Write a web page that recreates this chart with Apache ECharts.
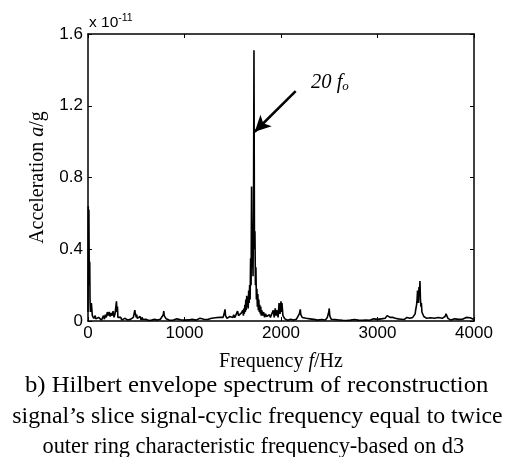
<!DOCTYPE html>
<html>
<head>
<meta charset="utf-8">
<script src="https://cdn.jsdelivr.net/npm/echarts@6/dist/echarts.min.js"></script>
<style>
html,body{margin:0;padding:0;background:#fff;}
#c{width:519px;height:457px;}
</style>
</head>
<body>
<div id="c"></div>
<script>
// Envelope spectrum (amplitude in units of 1e-11 g)
const freq = [
  0,3,6,9,12,15,18,21,25,30,35,40,45,50,55,60,65,70,75,80,85,90,95,100,
  110,120,130,140,150,160,170,180,190,200,210,220,230,240,250,260,270,280,290,295,300,305,310,320,330,
  340,350,360,370,380,390,400,410,420,430,440,450,460,470,
  480,485,490,495,500,505,510,520,
  530,540,550,560,570,580,590,600,610,620,630,640,650,660,670,680,690,700,710,720,730,740,750,760,770,
  780,785,790,795,800,810,820,
  840,860,880,900,920,940,960,980,1000,1020,1040,1060,1080,1100,1120,1140,1160,1180,1200,1220,1240,1260,1280,1300,1320,1340,1360,1380,
  1400,1410,1415,1420,1425,1430,1440,
  1450,1460,1470,1480,1490,1500,1510,1520,1530,1540,1550,1560,1570,1580,1590,1600,
  1605,1610,1615,1620,1625,1630,1635,1640,1645,1650,1655,1660,1665,1670,1675,1680,1685,1690,1695,1700,
  1705,1710,1715,1720,1725,1730,1735,1740,1745,1750,1755,1760,1765,1770,1775,1780,1785,1790,1795,1800,
  1810,1820,1830,1840,1850,
  1860,1870,1880,1890,1900,1910,1920,1930,1940,1950,1960,1970,1980,1990,2000,2005,2010,2020,2030,2040,2050,
  2060,2070,2080,2090,2100,2110,2120,2130,2140,2150,2160,2170,2180,
  2190,2195,2200,2205,2210,2220,2230,
  2240,2260,2280,2300,2320,2340,2360,2380,2400,2420,2440,2460,2480,
  2490,2495,2500,2505,2510,2520,
  2540,2560,2580,2600,2620,2640,2660,2680,2700,2720,2740,2760,2780,2800,2820,2840,2860,2880,2900,2920,2940,2960,2980,3000,3020,3040,3060,3080,
  3090,3100,3110,3120,3130,3140,3150,3160,
  3170,3185,3200,3215,3230,3245,3260,3275,3290,3305,3320,3335,3350,3365,3380,
  3390,3395,3400,3405,3410,3415,3420,3425,3430,3435,3440,3445,3450,3455,3460,3470,3480,
  3490,3510,3530,3550,3570,3590,3610,3630,3650,3670,3690,
  3700,3710,3715,3720,3730,
  3740,3760,3780,3800,3820,3840,3860,3880,3900,3920,3940,3960,3980,4000
];
const amp = [
  0.05,0.64,0.30,0.62,0.35,0.20,0.33,0.12,0.05,0.08,0.10,0.09,0.03,0.02,0.04,0.015,0.02,0.01,0.03,0.012,0.005,0.02,0.01,0.008,
  0.02,0.01,0.025,0.005,0.015,0.03,0.01,0.035,0.02,0.05,0.03,0.05,0.025,0.045,0.03,0.055,0.02,0.04,0.03,0.11,0.05,0.08,0.02,0.03,0.01,
  0.02,0.005,0.012,0.008,0.015,0.004,0.01,0.006,0.012,0.003,0.009,0.015,0.005,0.02,
  0.03,0.06,0.045,0.05,0.02,0.035,0.015,0.02,
  0.01,0.025,0.005,0.02,0.008,0.012,0.004,0.01,0.006,0.015,0.003,0.008,0.012,0.005,0.01,0.004,0.009,0.006,0.012,0.005,0.008,0.003,0.01,0.015,0.02,
  0.035,0.055,0.03,0.04,0.02,0.012,0.008,
  0.005,0.01,0.004,0.008,0.012,0.003,0.007,0.01,0.005,0.015,0.006,0.004,0.009,0.012,0.005,0.008,0.015,0.006,0.01,0.02,0.008,0.012,0.015,0.01,0.018,0.012,0.02,0.015,
  0.02,0.03,0.05,0.065,0.03,0.04,0.015,
  0.02,0.012,0.025,0.015,0.03,0.02,0.035,0.018,0.03,0.025,0.055,0.03,0.04,0.025,0.045,0.035,
  0.06,0.03,0.07,0.04,0.09,0.05,0.12,0.06,0.14,0.08,0.13,0.07,0.17,0.10,0.20,0.12,0.35,0.20,0.75,0.30,
  0.45,0.25,0.60,1.51,0.40,0.50,0.20,0.30,0.12,0.18,0.08,0.15,0.06,0.12,0.05,0.09,0.04,0.08,0.03,0.06,
  0.03,0.05,0.02,0.04,0.025,
  0.03,0.015,0.035,0.02,0.03,0.025,0.06,0.02,0.07,0.03,0.06,0.02,0.10,0.04,0.11,0.05,0.10,0.03,0.02,0.012,0.015,
  0.008,0.004,0.012,0.006,0.01,0.003,0.009,0.005,0.012,0.007,0.01,0.015,0.02,
  0.04,0.03,0.065,0.035,0.045,0.02,0.025,
  0.01,0.015,0.006,0.012,0.004,0.009,0.012,0.005,0.01,0.008,0.013,0.006,0.02,
  0.03,0.05,0.07,0.03,0.02,0.01,
  0.005,0.008,0.003,0.006,0.01,0.004,0.007,0.003,0.009,0.005,0.004,0.008,0.012,0.005,0.01,0.004,0.008,0.006,0.01,0.004,0.007,0.012,0.005,0.009,0.006,0.012,0.008,0.015,
  0.02,0.03,0.025,0.035,0.02,0.028,0.015,0.02,
  0.01,0.015,0.008,0.012,0.018,0.01,0.015,0.008,0.012,0.02,0.01,0.015,0.025,0.02,0.03,
  0.04,0.06,0.05,0.09,0.12,0.17,0.18,0.10,0.19,0.15,0.223,0.12,0.08,0.10,0.05,0.04,0.025,
  0.02,0.015,0.012,0.018,0.01,0.015,0.012,0.02,0.01,0.015,0.02,
  0.025,0.04,0.03,0.035,0.015,
  0.01,0.005,0.008,0.012,0.004,0.009,0.006,0.01,0.015,0.02,0.012,0.018,0.01,0.008
];
const xTicks = [0, 1000, 2000, 3000, 4000];
const yTicks = ['0', '0.4', '0.8', '1.2', '1.6'];
const captionLines = [
  'b) Hilbert envelope spectrum of reconstruction',
  'signal\u2019s slice signal-cyclic frequency equal to twice',
  'outer ring characteristic frequency-based on d3'
];

const serif = '"Liberation Serif", "Times New Roman", serif';
const sans = '"Liberation Sans", Arial, sans-serif';

const chart = echarts.init(document.getElementById('c'), null, {renderer: 'canvas'});
const data = freq.map((f, i) => [f, amp[i]]);

function axisBase() {
  return {
    axisLine: {show: true, onZero: false, lineStyle: {color: '#000', width: 1.5}},
    axisTick: {show: true, inside: true, length: 4, lineStyle: {color: '#000', width: 1}},
    splitLine: {show: false}
  };
}

chart.setOption({
  animation: false,
  backgroundColor: '#fff',
  grid: {left: 88, right: 45, top: 34, bottom: 136},
  xAxis: [
    Object.assign(axisBase(), {
      type: 'value', min: 0, max: 4000, interval: 1000, position: 'bottom',
      axisLabel: {color: '#000', fontFamily: sans, fontSize: 17, margin: 4,
        formatter: v => String(xTicks[Math.round(v / 1000)])},
      name: '{n|Frequency }{i|f}{n|/Hz}',
      nameLocation: 'middle', nameGap: 31,
      nameTextStyle: {rich: {
        n: {fontFamily: serif, fontSize: 20, color: '#000'},
        i: {fontFamily: serif, fontSize: 20, fontStyle: 'italic', color: '#000'}
      }}
    }),
    Object.assign(axisBase(), {
      type: 'value', min: 0, max: 4000, interval: 1000, position: 'top',
      axisLabel: {show: false}
    })
  ],
  yAxis: [
    Object.assign(axisBase(), {
      type: 'value', min: 0, max: 1.6, interval: 0.4, position: 'left',
      axisLabel: {color: '#000', fontFamily: sans, fontSize: 17, margin: 5,
        formatter: (v) => yTicks[Math.round(v / 0.4)]},
      name: '{n|Acceleration }{i|a}{n|/g}',
      nameLocation: 'middle', nameGap: 40, nameRotate: 90,
      nameTextStyle: {rich: {
        n: {fontFamily: serif, fontSize: 20, color: '#000'},
        i: {fontFamily: serif, fontSize: 20, fontStyle: 'italic', color: '#000'}
      }}
    }),
    Object.assign(axisBase(), {
      type: 'value', min: 0, max: 1.6, interval: 0.4, position: 'right',
      axisLabel: {show: false}
    })
  ],
  series: [{
    type: 'line',
    data: data,
    showSymbol: false,
    symbol: 'none',
    lineStyle: {color: '#000', width: 1.6},
    markLine: {
      silent: true,
      symbol: ['none', 'arrow'],
      symbolSize: [12, 16],
      label: {show: false},
      lineStyle: {color: '#000', width: 2.5, type: 'solid'},
      data: [[{coord: [2152, 1.282]}, {coord: [1728, 1.055]}]]
    }
  }],
  graphic: [
    {type: 'text', left: 89, top: 13, style: {
      text: '{a|x 10}{b|-11}', rich: {
        a: {fontFamily: sans, fontSize: 15.5, color: '#000', verticalAlign: 'bottom', lineHeight: 18},
        b: {fontFamily: sans, fontSize: 10.5, color: '#000', verticalAlign: 'top', lineHeight: 18, padding: [0,0,8,0]}
      }}},
    {type: 'text', x: 311, y: 83, style: {
      text: '{a|20 }{a|f}{b|o}', textVerticalAlign: 'middle', rich: {
        a: {fontFamily: serif, fontSize: 20.5, fontStyle: 'italic', color: '#000'},
        b: {fontFamily: serif, fontSize: 13, fontStyle: 'italic', color: '#000', padding: [8,0,0,0]}
      }}},
    {type: 'text', x: 256.7, y: 386, scaleX: 1.039, style: {text: captionLines[0], fontFamily: serif, fontSize: 23.8, fill: '#000', textAlign: 'center', textVerticalAlign: 'middle'}},
    {type: 'text', x: 257.5, y: 417, scaleX: 1.0, style: {text: captionLines[1], fontFamily: serif, fontSize: 23.8, fill: '#000', textAlign: 'center', textVerticalAlign: 'middle'}},
    {type: 'text', x: 253.3, y: 447, scaleX: 0.94, style: {text: captionLines[2], fontFamily: serif, fontSize: 23.8, fill: '#000', textAlign: 'center', textVerticalAlign: 'middle'}}
  ]
});
</script>
</body>
</html>
